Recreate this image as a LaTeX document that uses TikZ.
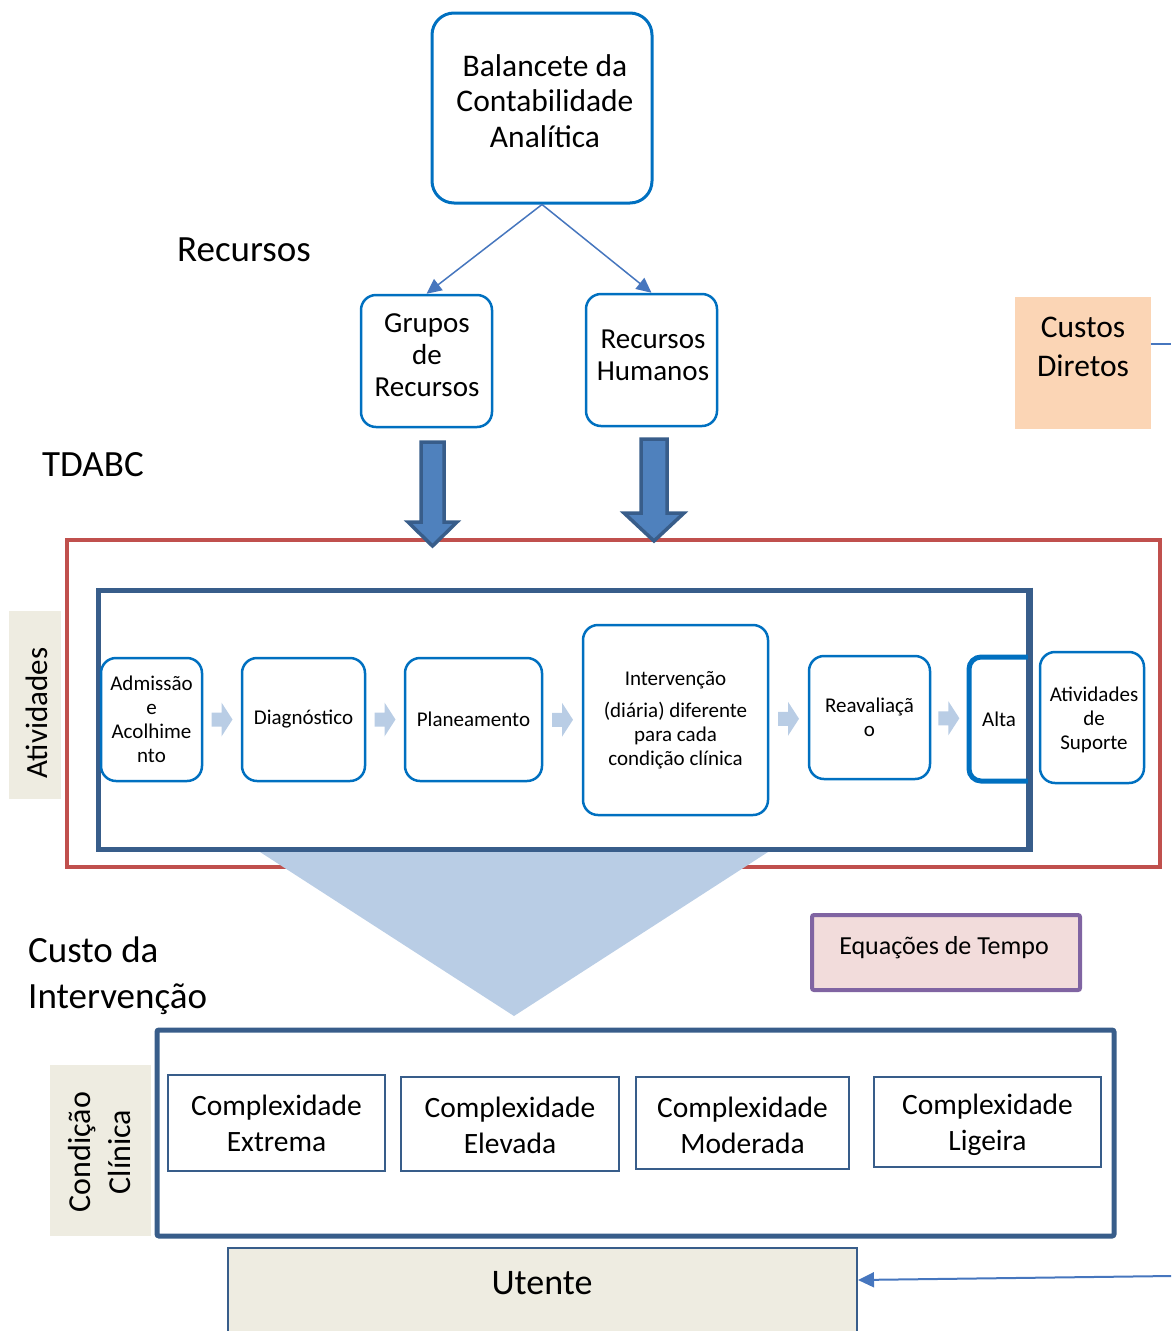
\documentclass[tikz,border=0pt]{standalone}
\usepackage{fontspec}
\setmainfont{Carlito}
\usetikzlibrary{arrows.meta,calc}
\definecolor{accblue}{RGB}{0,112,192}
\definecolor{navy}{RGB}{56,93,138}
\definecolor{steel}{RGB}{70,118,190}
\definecolor{fillblue}{RGB}{79,129,189}
\definecolor{paleblue}{RGB}{185,205,229}
\definecolor{brick}{RGB}{192,80,77}
\definecolor{peach}{RGB}{251,213,181}
\definecolor{beige}{RGB}{238,236,225}
\definecolor{rose}{RGB}{242,220,219}
\definecolor{violet}{RGB}{128,100,162}

\tikzset{
  sz/.style 2 args={minimum width=#1, minimum height=#2},
  rbox/.style={draw=accblue, line width=2.5pt, rounded corners=15pt, inner sep=0pt, align=center},
  txt/.style={inner sep=0pt, align=center},
  small/.style={font=\fontsize{21}{24}\selectfont},
  cbox/.style={draw=navy, line width=2pt, inner sep=0pt},
  ctext/.style={inner sep=0pt, align=center, font=\fontsize{29.5}{36}\selectfont},
  label/.style={fill=beige, inner sep=0pt},
  link/.style={draw=steel, line width=1.5pt, -{Triangle[length=15pt,width=14pt]}},
  blockarrow/.style={fill=fillblue, draw=navy, line width=3.5pt, line join=miter},
  chevron/.pic={\fill[paleblue] (-10.5,-7) -- (-0.5,-7) -- (-0.5,-17) -- (10.5,0) -- (-0.5,17) -- (-0.5,7) -- (-10.5,7) -- cycle;}
}

\begin{document}
\begin{tikzpicture}[x=1pt,y=-1pt]
\useasboundingbox (0,0) rectangle (1171,1331);

% --- resources ---
\node[rbox, line width=3pt, rounded corners=22pt, sz={220}{190}] (bal) at (542,108) {};
\node[txt, font=\fontsize{31.5}{35.5}\selectfont] (balt) at (545,101) {Balancete da\\Contabilidade\\Analítica};

\node[txt, font=\fontsize{37}{40}\selectfont, anchor=west] (rec) at (177,250) {Recursos};

\node[rbox, sz={131}{132}] (grp) at (426.5,361) {};
\node[txt, font=\fontsize{29}{32}\selectfont] (grpt) at (427,355) {Grupos\\de\\Recursos};
\node[rbox, sz={131}{132}] (rh) at (651.5,360) {};
\node[txt, font=\fontsize{29}{32}\selectfont] (rht) at (653,355) {Recursos\\Humanos};

\draw[link] (bal.south) -- (grp.north);
\draw[link] (bal.south) -- (rh.north);

\node[fill=peach, sz={136}{132}, inner sep=0pt] (cd) at (1083,363) {};
\node[txt, font=\fontsize{31.5}{39}\selectfont] (cdt) at (1083,347) {Custos\\Diretos};
\coordinate (cdout) at (1171,344);
\draw[steel, line width=1.5pt] (cd.east |- cdout) -- (cdout);

\node[txt, font=\fontsize{37}{40}\selectfont, anchor=west] (tdabc) at (42,465) {TDABC};

% --- activities frame ---
\node[draw=brick, line width=4pt, sz={1093}{327}, inner sep=0pt] (frame) at (613.5,703.5) {};
\fill[paleblue] (260,852) -- (768,852) -- (514,1016) -- cycle;
\node[draw=navy, line width=5pt, sz={930}{259}, inner sep=0pt] (act) at (563,719.5) {};

% block arrows feeding the activities
\draw[blockarrow] (421,442) -- (444,442) -- (444,522) -- (457,522) -- (432.5,546) -- (408,522) -- (421,522) -- cycle;
\draw[blockarrow] (641,439) -- (667,439) -- (667,513) -- (684,513) -- (654,541) -- (624,513) -- (641,513) -- cycle;

\node[label, sz={52}{188}] (atvl) at (35,705) {};
\node[txt, rotate=90, font=\fontsize{31}{36}\selectfont] (atvt) at (37,713) {Atividades};

% process chain
\node[rbox, small, sz={101}{123}] (adm) at (151.5,719.5) {Admissão\\e\\Acolhime\\nto};
\node[rbox, small, sz={123}{123}] (dia) at (303.5,719.5) {Diagnóstico};
\node[rbox, small, sz={137}{123}] (pla) at (473.5,719.5) {Planeamento};
\node[rbox, small, sz={185}{190}] (int) at (675.5,720) {Intervenção\\[8pt](diária) diferente\\para cada\\condição clínica};
\node[rbox, small, sz={121}{123}] (rea) at (869.5,717.5) {Reavaliaçã\\o};
\begin{scope}
  \clip (940,600) rectangle (1028,800);
  \node[rbox, line width=5pt, rounded corners=12pt, sz={76}{124}] (altab) at (1007,719) {};
\end{scope}
\node[txt, small] (altat) at (999,719) {Alta};
\node[rbox, sz={104}{131}] (sup) at (1092,717.5) {};
\node[txt, small] (supt) at (1094,720) {Atividades\\de\\Suporte};

\pic at ($(adm.east)!0.5!(dia.west)$) {chevron};
\pic at ($(dia.east)!0.5!(pla.west)$) {chevron};
\pic at ($(pla.east)!0.5!(int.west)$) {chevron};
\pic at ($(int.east)!0.5!(rea.west)$) {chevron};
\pic at ($(rea.east)!0.5!(altab.west)$) {chevron};

% redraw the inner frame edge over the discharge box
\draw[navy, line width=5pt] (act.north east) -- (act.south east);

% --- cost side ---
\node[draw=violet, fill=rose, line width=4pt, rounded corners=2pt, sz={268}{75}, inner sep=0pt] (eq) at (946,952.5) {};
\node[txt, font=\fontsize{26}{30}\selectfont] (eqt) at (944,948) {Equações de Tempo};

\node[txt, align=left, anchor=west, font=\fontsize{37}{46}\selectfont] (cint) at (28,976) {Custo da\\Intervenção};

\node[draw=navy, line width=5pt, rounded corners=2pt, sz={957}{206}, inner sep=0pt] (cond) at (635.5,1133) {};
\node[label, sz={101}{171}] (condl) at (100.5,1150.5) {};
\node[txt, rotate=90, font=\fontsize{32}{40}\selectfont] (condt) at (100,1152) {Condição\\Clínica};

\node[cbox, sz={217}{96}] (cx1) at (276.5,1123) {};
\node[ctext] (cx1t) at (276.5,1123) {Complexidade\\Extrema};
\node[cbox, sz={218}{94}] (cx2) at (510,1124) {};
\node[ctext] (cx2t) at (510,1125) {Complexidade\\Elevada};
\node[cbox, sz={213}{92}] (cx3) at (742.5,1123) {};
\node[ctext] (cx3t) at (742.5,1125) {Complexidade\\Moderada};
\node[cbox, sz={227}{90}] (cx4) at (987.5,1122) {};
\node[ctext] (cx4t) at (987.5,1125) {Complexidade\\Ligeira};

% --- patient ---
\node[fill=beige, draw=navy, line width=2pt, sz={629}{97}, inner sep=0pt] (ut) at (542.5,1296.5) {};
\node[txt, font=\fontsize{36}{40}\selectfont] (utt) at (542,1283) {Utente};
\coordinate (usrc) at (1171,1276);
\draw[steel, line width=2pt, -{Triangle[length=16pt,width=15pt]}] (usrc) -- ($(ut.north east)+(0,33)$);
\end{tikzpicture}
\end{document}
